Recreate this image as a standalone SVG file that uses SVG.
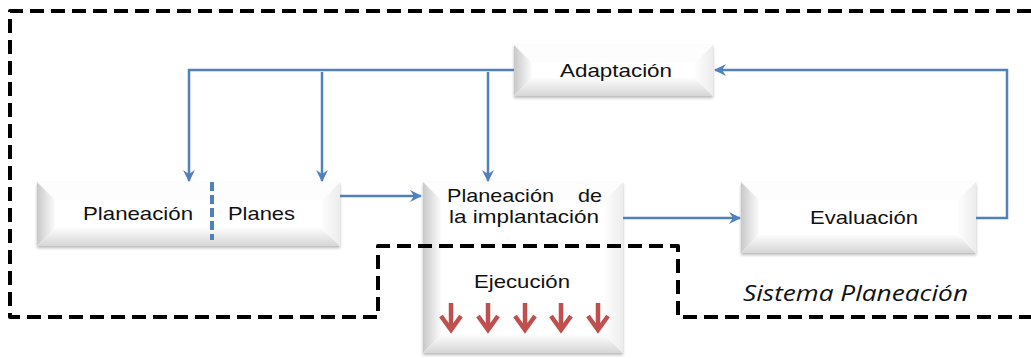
<svg xmlns="http://www.w3.org/2000/svg" width="1031" height="358" viewBox="0 0 1031 358">
<style>
.lbl{font-family:"Liberation Sans",Arial,sans-serif;font-size:18.5px;fill:#111;white-space:pre}
.conn{fill:none;stroke:#4f81bd;stroke-width:2.5}
.bev-l{fill:url(#gl)}
.bev-b{fill:url(#gb)}
.bev-r{fill:url(#gr)}
.bev-t{fill:#fdfdfd}
.face{fill:#ffffff}
.red{fill:none;stroke:#c0504d;stroke-width:4.5;stroke-linecap:butt}
</style>
<defs>
<linearGradient id="gl" x1="0" y1="0" x2="1" y2="0"><stop offset="0" stop-color="#c8c8c8"/><stop offset="1" stop-color="#fcfcfc"/></linearGradient>
<linearGradient id="gb" x1="0" y1="1" x2="0" y2="0"><stop offset="0" stop-color="#d6d6d6"/><stop offset="1" stop-color="#fcfcfc"/></linearGradient>
<linearGradient id="gr" x1="1" y1="0" x2="0" y2="0"><stop offset="0" stop-color="#ececec"/><stop offset="1" stop-color="#fdfdfd"/></linearGradient>
<filter id="sh" x="-5%" y="-5%" width="110%" height="120%"><feDropShadow dx="0" dy="2" stdDeviation="1.5" flood-color="#000" flood-opacity="0.28"/></filter>
<marker id="ah" viewBox="0 0 12 12" refX="11" refY="6" markerWidth="12" markerHeight="12" markerUnits="userSpaceOnUse" orient="auto">
<path d="M0,0 L12,6 L0,12 L4,6 Z" fill="#4f81bd"/>
</marker>
</defs>

<g id="node-adaptacion">
<rect x="514" y="45" width="199" height="51" class="face" filter="url(#sh)"/>
<polygon points="514,45 713,45 695,63 532,63" class="bev-t"/>
<polygon points="514,45 532,63 532,78 514,96" class="bev-l"/>
<polygon points="514,96 532,78 695,78 713,96" class="bev-b"/>
<polygon points="713,45 695,63 695,78 713,96" class="bev-r"/>
<rect x="532" y="63" width="163" height="15" class="face"/>
<text x="560" y="77" class="lbl" textLength="112" lengthAdjust="spacingAndGlyphs">Adaptación</text>
</g>

<g id="node-planeacion">
<rect x="37" y="182" width="303" height="64" class="face" filter="url(#sh)"/>
<polygon points="37,182 340,182 322,200 55,200" class="bev-t"/>
<polygon points="37,182 55,200 55,228 37,246" class="bev-l"/>
<polygon points="37,246 55,228 322,228 340,246" class="bev-b"/>
<polygon points="340,182 322,200 322,228 340,246" class="bev-r"/>
<rect x="55" y="200" width="267" height="28" class="face"/>
<text x="83" y="220" class="lbl" textLength="110" lengthAdjust="spacingAndGlyphs">Planeación</text>
<text x="228" y="220" class="lbl" textLength="67" lengthAdjust="spacingAndGlyphs">Planes</text>
<line x1="212" y1="182" x2="212" y2="240" stroke="#4f81bd" stroke-width="4" stroke-dasharray="9,4"/>
</g>

<g id="node-implantacion">
<rect x="423" y="182" width="200" height="171" class="face" filter="url(#sh)"/>
<polygon points="423,182 623,182 605,200 441,200" class="bev-t"/>
<polygon points="423,182 441,200 441,335 423,353" class="bev-l"/>
<polygon points="423,353 441,335 605,335 623,353" class="bev-b"/>
<polygon points="623,182 605,200 605,335 623,353" class="bev-r"/>
<rect x="441" y="200" width="164" height="135" class="face"/>
<text x="447" y="202" class="lbl" textLength="155" lengthAdjust="spacingAndGlyphs">Planeación    de</text>
<text x="449" y="223" class="lbl" textLength="150" lengthAdjust="spacingAndGlyphs">la implantación</text>
<text x="474" y="288" class="lbl" textLength="96" lengthAdjust="spacingAndGlyphs">Ejecución</text>
<g id="red-arrows">
<path class="red" d="M451,303 V330 M441,316 L451,330 L461,316"/>
<path class="red" d="M488,303 V330 M478,316 L488,330 L498,316"/>
<path class="red" d="M525,303 V330 M515,316 L525,330 L535,316"/>
<path class="red" d="M561,303 V330 M551,316 L561,330 L571,316"/>
<path class="red" d="M598,303 V330 M588,316 L598,330 L608,316"/>
</g>
</g>

<g id="node-evaluacion">
<rect x="741" y="182" width="235" height="71" class="face" filter="url(#sh)"/>
<polygon points="741,182 976,182 958,200 759,200" class="bev-t"/>
<polygon points="741,182 759,200 759,235 741,253" class="bev-l"/>
<polygon points="741,253 759,235 958,235 976,253" class="bev-b"/>
<polygon points="976,182 958,200 958,235 976,253" class="bev-r"/>
<rect x="759" y="200" width="199" height="35" class="face"/>
<text x="810" y="224" class="lbl" textLength="108" lengthAdjust="spacingAndGlyphs">Evaluación</text>
</g>

<g id="connectors">
<path class="conn" d="M514,70 H189 V181" marker-end="url(#ah)"/>
<path class="conn" d="M322,72 V181" marker-end="url(#ah)"/>
<path class="conn" d="M488,72 V181" marker-end="url(#ah)"/>
<path class="conn" d="M340,196 H421" marker-end="url(#ah)"/>
<path class="conn" d="M623,218 H740" marker-end="url(#ah)"/>
<path class="conn" d="M976,218 H1007 V70 H715" marker-end="url(#ah)"/>
</g>

<g id="system-boundary">
<path d="M1031,11 H10 V317 H378 V246 H678 V317 H1031" fill="none" stroke="#000" stroke-width="4" stroke-dasharray="14,7" stroke-linejoin="round"/>
<text x="743" y="301" font-family="'Open Sans','DejaVu Sans',sans-serif" font-style="italic" font-size="21" fill="#111" textLength="225" lengthAdjust="spacingAndGlyphs">Sistema Planeación</text>
</g>
</svg>
